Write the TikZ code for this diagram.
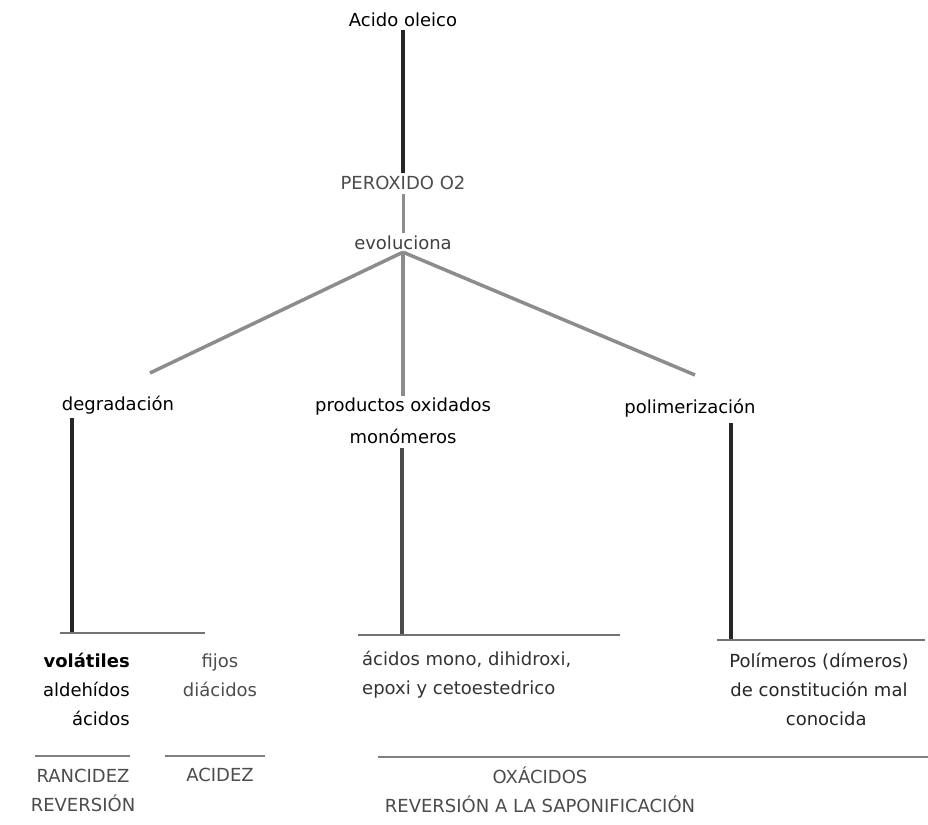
\documentclass[tikz,border=0pt]{standalone}
\usepackage{fontspec}
\setmainfont{DejaVu Sans}
\usepackage{tikz}

\tikzset{
  lbl/.style={inner sep=2pt, font=\fontsize{18}{29}\selectfont},
  caps/.style={lbl, text=black!70},
  stem/.style={line width=3.5pt, black!85},
  branch/.style={line width=3.5pt, black!45},
  rule/.style={line width=1.2pt, black!55},
  sep/.style={line width=2.5pt, black!50}
}

\begin{document}
\begin{tikzpicture}[x=1pt,y=-1pt]
      \useasboundingbox (0,0) rectangle (928,824);
      % upper chain
      \node[lbl] (acido) at (403,20) {Acido oleico};
      \node[caps] (perox) at (403,183) {PEROXIDO O2};
      \node[lbl, text=black!75] (evol) at (403,243) {evoluciona};
      \draw[stem, shorten <=1pt, shorten >=1pt] (acido) -- (perox);
      \draw[branch, line width=3pt, shorten <=2pt, shorten >=1pt] (perox) -- (evol);
      % three branches
      \node[lbl] (degr) at (118,405) {degradación};
      \node[lbl, align=center, font=\fontsize{18}{32}\selectfont] (prod) at (403,421) {productos oxidados\\monómeros};
      \node[lbl] (polim) at (690,408) {polimerización};
      \coordinate (degrtip) at (150,373);
      \coordinate (polimtip) at (695,375);
      \draw[branch] (evol.south) -- (degrtip);
      \draw[branch] (evol.south) -- (prod.north);
      \draw[branch] (evol.south) -- (polimtip);
      % stems down to the rules
      \coordinate (degrbase) at (72,633);
      \coordinate (prodbase) at (402,635);
      \coordinate (polimbase) at (731,640);
      \draw[stem, shorten <=2pt] (degr.south -| degrbase) -- (degrbase);
      \draw[stem, black!70, shorten <=2pt] (prod.south -| prodbase) -- (prodbase);
      \draw[stem, shorten <=4pt] (polim.south -| polimbase) -- (polimbase);
      \draw[rule] (60,633) -- (205,633);
      \draw[rule] (358,635) -- (620,635);
      \draw[rule] (717,640) -- (925,640);
      % products
      \node[lbl, anchor=east, align=right] (vol) at (132,689) {\textbf{volátiles}\\aldehídos\\ácidos};
      \node[lbl, align=center, text=black!70] (fijos) at (220,675) {fijos\\diácidos};
      \node[lbl, anchor=west, align=left, text=black!80] (mono) at (360,675) {ácidos mono, dihidroxi,\\epoxi y cetoestedrico};
      \node[lbl, align=center, text=black!85] (polimeros) at (819,689) {Polímeros (dímeros)\\de constitución mal\\\hspace*{0.8em}conocida};
      % bottom
      \draw[sep] (35,756) -- (130,756);
      \draw[sep] (165,756) -- (265,756);
      \draw[sep] (378,757) -- (928,757);
      \node[caps, align=center] (ranc) at (83,790) {RANCIDEZ\\REVERSIÓN};
      \node[caps] (acidez) at (220,775) {ACIDEZ};
      \node[caps, align=center] (oxac) at (540,790) {OXÁCIDOS\\REVERSIÓN A LA SAPONIFICACIÓN};
\end{tikzpicture}
\end{document}
